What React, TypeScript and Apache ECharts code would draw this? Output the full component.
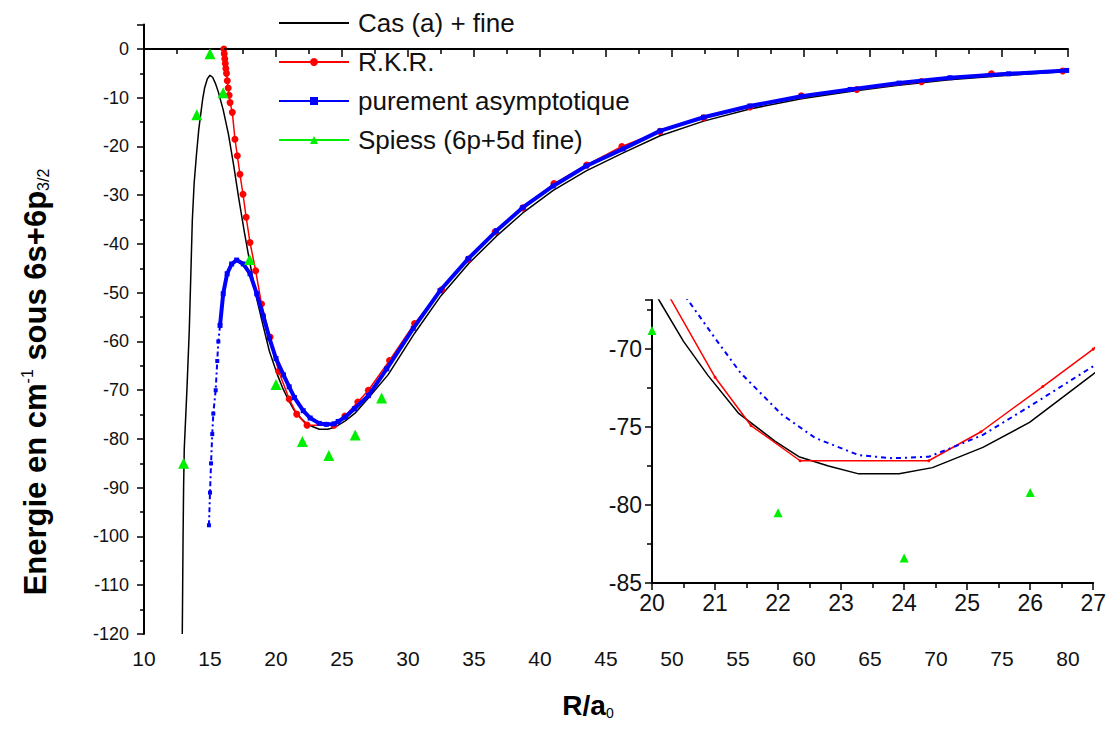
import React, { useEffect, useRef } from 'react';
import * as echarts from 'echarts';

// Cas (a) + fine : [R/a0, E (cm-1)]
const casA: number[][] = [
  [12.9, -120], [12.93, -110], [12.96, -100], [13.0, -90], [13.05, -82], [13.25, -70], [13.43, -57.7],
  [13.55, -46], [13.66, -35.2], [13.8, -27.5], [13.98, -21.5], [14.15, -16.5], [14.3, -13.3], [14.45, -10.2],
  [14.6, -7.9], [14.8, -6.1], [15.0, -5.4], [15.2, -5.8], [15.4, -7.0], [15.63, -8.8], [16.0, -12.5],
  [16.4, -17.5], [16.8, -24], [17.17, -30.5], [17.6, -37.5], [18.03, -44], [18.5, -50.8], [19.0, -56.5],
  [19.5, -62.0], [20.11, -66.85], [20.5, -69.5], [20.89, -71.7], [21.37, -74.1], [21.95, -75.9],
  [22.33, -76.9], [22.8, -77.5], [23.28, -78.0], [23.92, -78.0], [24.45, -77.6], [25.25, -76.3],
  [25.99, -74.7], [27.0, -71.6], [28.5, -66.8], [30.5, -58.3], [32.5, -50.6], [34.6, -44.0], [36.7, -38.4],
  [38.8, -33.4], [41.0, -29.0], [43.5, -25.0], [46.3, -21.3], [49.1, -17.8], [52.4, -14.8], [55.9, -12.3],
  [59.8, -10.2], [63.5, -8.7], [67.0, -7.5], [71.0, -6.3], [75.5, -5.4], [80.0, -4.6],
];

// R.K.R. turning points
const rkr: number[][] = [
  [16.05, 0], [16.08, -1], [16.12, -2], [16.16, -3], [16.2, -4], [16.25, -5], [16.31, -6.5], [16.38, -8],
  [16.45, -9.5], [16.52, -11], [16.69, -13], [16.89, -18.5], [17.07, -21.9], [17.27, -25.7], [17.5, -29.8],
  [17.74, -34.5], [18.03, -39.7], [18.46, -45.5], [18.9, -52.3], [19.55, -59.1], [20.2, -66.1], [21.0, -71.8],
  [21.57, -74.9], [22.35, -77.16], [24.39, -77.16], [25.22, -75.3], [26.2, -72.4], [27.0, -70.0],
  [28.6, -63.9], [30.5, -56.3], [32.55, -49.4], [34.57, -43.1], [36.6, -37.5], [38.7, -32.6], [41.06, -27.6],
  [43.54, -23.8], [46.2, -20.0], [49.1, -16.9], [52.4, -14.1], [55.9, -11.9], [59.8, -9.6], [64.0, -8.3],
  [68.9, -6.7], [74.2, -5.1], [79.6, -4.5],
];

// purement asymptotique
const asympt: number[][] = [
  [14.92, -97.7], [15.0, -91], [15.08, -85], [15.17, -79], [15.25, -74.8], [15.43, -70], [15.55, -64],
  [15.63, -60], [15.76, -56.7], [16.0, -50.2], [16.3, -46.1], [16.64, -44.1], [17.02, -43.3], [17.52, -44.1],
  [18.03, -46.1], [18.54, -50.2], [19.04, -54.8], [19.5, -59.3], [20.0, -63.5], [20.57, -66.85], [21.0, -69.3],
  [21.4, -71.5], [22.06, -74.2], [22.59, -75.7], [23.28, -76.8], [23.81, -77.0], [24.39, -76.9], [24.71, -76.4],
  [25.25, -75.5], [25.94, -73.8], [27.0, -71.1], [28.39, -65.6], [30.4, -57.3], [32.42, -49.6], [34.57, -43.0],
  [36.7, -37.3], [38.7, -32.5], [41.0, -28.1], [43.5, -24.0], [46.3, -20.5], [49.1, -16.8], [52.4, -14.0],
  [55.9, -11.7], [59.8, -9.7], [63.5, -8.3], [67.2, -7.0], [71.06, -5.9], [75.5, -5.1], [79.9, -4.4],
];

// Spiess (6p+5d fine)
const spiess: number[][] = [
  [13, -85], [14, -13.5], [15, -1], [16, -9], [18, -43.2], [20, -68.8], [22, -80.5], [24, -83.4],
  [26, -79.2], [28, -71.6],
];

const NAMES = ['Cas (a) + fine', 'R.K.R.', 'purement asymptotique', 'Spiess (6p+5d fine)'];
const mainXTicks = { min: 10, max: 80, interval: 5 };
const mainYTicks = { min: -120, max: 5, interval: 10 };
const insetXTicks = { min: 20, max: 27, interval: 1 };
const insetYTicks = { min: -85, max: -66.85, interval: 5 };

const FONT = "'Liberation Sans', Arial, Helvetica, sans-serif";
const BLACK = '#000000';
const RED = '#ff0000';
const BLUE = '#0000ff';
const GREEN = '#00ee00';

export default function App() {
  const ref = useRef<HTMLDivElement>(null);
  useEffect(() => {
    const chart = echarts.init(ref.current!, null, { renderer: 'svg' });
    const axisLine = { lineStyle: { color: BLACK, width: 2 } };
    const option: any = {
      animation: false,
      backgroundColor: '#ffffff',
      grid: [
        { left: 144, right: 41, top: 24.6, bottom: 102, containLabel: false },
        { left: 652, right: 12, top: 300, bottom: 153, containLabel: false },
      ],
      legend: {
        data: [
          { name: NAMES[0], itemStyle: { opacity: 0 } },
          { name: NAMES[1] },
          { name: NAMES[2] },
          { name: NAMES[3], lineStyle: { opacity: 1, width: 2, color: GREEN, type: 'solid' } },
        ],
        orient: 'vertical',
        left: 273,
        top: 4,
        itemWidth: 70,
        itemHeight: 10,
        itemGap: 11,
        textStyle: { fontSize: 26, fontFamily: FONT, color: '#111', lineHeight: 28, padding: [0, 0, 0, 4] },
      },
      xAxis: [
        {
          gridIndex: 0, type: 'value', ...mainXTicks,
          axisLine, splitLine: { show: false },
          axisTick: { length: 8, lineStyle: { color: BLACK, width: 1.5 } },
          minorTick: { show: true, splitNumber: 2, length: 5, lineStyle: { color: BLACK, width: 1.5 } },
          axisLabel: { fontSize: 21, fontFamily: FONT, color: '#111', margin: 14 },
        },
        {
          gridIndex: 1, type: 'value', ...insetXTicks,
          axisLine, splitLine: { show: false },
          axisTick: { length: 7, lineStyle: { color: BLACK, width: 1.5 } },
          minorTick: { show: true, splitNumber: 2, length: 5, lineStyle: { color: BLACK, width: 1.5 } },
          axisLabel: { fontSize: 23, fontFamily: FONT, color: '#111', margin: 8 },
        },
      ],
      yAxis: [
        {
          gridIndex: 0, type: 'value', ...mainYTicks,
          axisLine, splitLine: { show: false },
          axisTick: { length: 7, lineStyle: { color: BLACK, width: 1.5 } },
          minorTick: { show: true, splitNumber: 2, length: 4, lineStyle: { color: BLACK, width: 1.5 } },
          axisLabel: {
            fontSize: 18, fontFamily: FONT, color: '#111', margin: 15,
            formatter: (v: number) => (Math.abs(v % 10) < 1e-6 && v <= 0 ? String(v) : ''),
          },
        },
        {
          gridIndex: 1, type: 'value', ...insetYTicks,
          axisLine, splitLine: { show: false },
          axisTick: { length: 7, lineStyle: { color: BLACK, width: 1.5 } },
          minorTick: { show: true, splitNumber: 2, length: 5, lineStyle: { color: BLACK, width: 1.5 } },
          axisLabel: {
            fontSize: 23, fontFamily: FONT, color: '#111', margin: 10,
            formatter: (v: number) => (Math.abs(v % 5) < 1e-6 ? String(v) : ''),
          },
        },
      ],
      graphic: [
        {
          type: 'text', x: 35, y: 382, rotation: Math.PI / 2,
          style: {
            text: '{a|Energie en cm}{sup|-1}{a| sous 6s+6p}{sub|3/2}',
            align: 'center', verticalAlign: 'middle',
            rich: {
              a: { fontSize: 31, fontWeight: 'bold', fontFamily: FONT, fill: BLACK, color: BLACK, lineHeight: 32 },
              sup: { fontSize: 16, fontFamily: FONT, fill: BLACK, color: BLACK, lineHeight: 16, verticalAlign: 'top' },
              sub: { fontSize: 16, fontFamily: FONT, fill: BLACK, color: BLACK, lineHeight: 16, verticalAlign: 'bottom' },
            },
          },
        },
        {
          type: 'text', x: 588, y: 705,
          style: {
            text: '{a|R/a}{sub|0}',
            align: 'center', verticalAlign: 'middle',
            rich: {
              a: { fontSize: 28, fontWeight: 'bold', fontFamily: FONT, fill: BLACK, color: BLACK, lineHeight: 30 },
              sub: { fontSize: 14, fontFamily: FONT, fill: BLACK, color: BLACK, lineHeight: 10, verticalAlign: 'bottom' },
            },
          },
        },
      ],
      series: [
        {
          name: NAMES[0], type: 'line', xAxisIndex: 0, yAxisIndex: 0, data: casA,
          symbol: 'none', color: BLACK, lineStyle: { color: BLACK, width: 1.5 }, z: 3,
          markLine: {
            silent: true, symbol: ['none', 'none'], label: { show: false },
            lineStyle: { color: BLACK, width: 1.5, type: [5, 5] },
            data: [{ yAxis: 0 }],
          },
        },
        {
          name: NAMES[1], type: 'line', xAxisIndex: 0, yAxisIndex: 0, data: rkr,
          symbol: 'circle', symbolSize: 7, showAllSymbol: true, color: RED,
          itemStyle: { color: RED }, lineStyle: { color: RED, width: 1.5 }, z: 4,
        },
        {
          name: 'asympt-sparse', type: 'line', xAxisIndex: 0, yAxisIndex: 0, data: asympt.slice(0, 9),
          symbol: 'rect', symbolSize: 4, showAllSymbol: true, color: BLUE,
          itemStyle: { color: BLUE }, lineStyle: { color: BLUE, width: 2, type: [5, 3, 2, 3] }, z: 5,
        },
        {
          name: NAMES[2], type: 'line', xAxisIndex: 0, yAxisIndex: 0, data: asympt.slice(8),
          symbol: 'rect', symbolSize: 5, showAllSymbol: true, color: BLUE,
          itemStyle: { color: BLUE }, lineStyle: { color: BLUE, width: 4 }, z: 5,
        },
        {
          name: NAMES[3], type: 'line', xAxisIndex: 0, yAxisIndex: 0, data: spiess,
          symbol: 'triangle', symbolSize: 11, showAllSymbol: true, color: GREEN,
          itemStyle: { color: GREEN }, lineStyle: { color: GREEN, width: 0, opacity: 0 }, z: 6,
        },
        // inset
        {
          name: 'inset-cas', type: 'line', xAxisIndex: 1, yAxisIndex: 1, data: casA,
          symbol: 'none', lineStyle: { color: BLACK, width: 1.5 }, clip: true,
        },
        {
          name: 'inset-rkr', type: 'line', xAxisIndex: 1, yAxisIndex: 1, data: rkr,
          symbol: 'circle', symbolSize: 3, showAllSymbol: true, itemStyle: { color: RED },
          lineStyle: { color: RED, width: 1.5 }, clip: true,
        },
        {
          name: 'inset-asympt', type: 'line', xAxisIndex: 1, yAxisIndex: 1, data: asympt,
          symbol: 'none', lineStyle: { color: BLUE, width: 2, type: [5, 4, 2, 4] }, clip: true,
        },
        {
          name: 'inset-spiess', type: 'line', xAxisIndex: 1, yAxisIndex: 1, data: spiess,
          symbol: 'triangle', symbolSize: 9, showAllSymbol: true, itemStyle: { color: GREEN },
          lineStyle: { width: 0, opacity: 0 }, clip: true,
        },
      ],
    };
    chart.setOption(option);
    return () => chart.dispose();
  }, []);
  return <div ref={ref} style={{ position: 'fixed', left: 0, top: 0, width: 1109, height: 736 }} />;
}
